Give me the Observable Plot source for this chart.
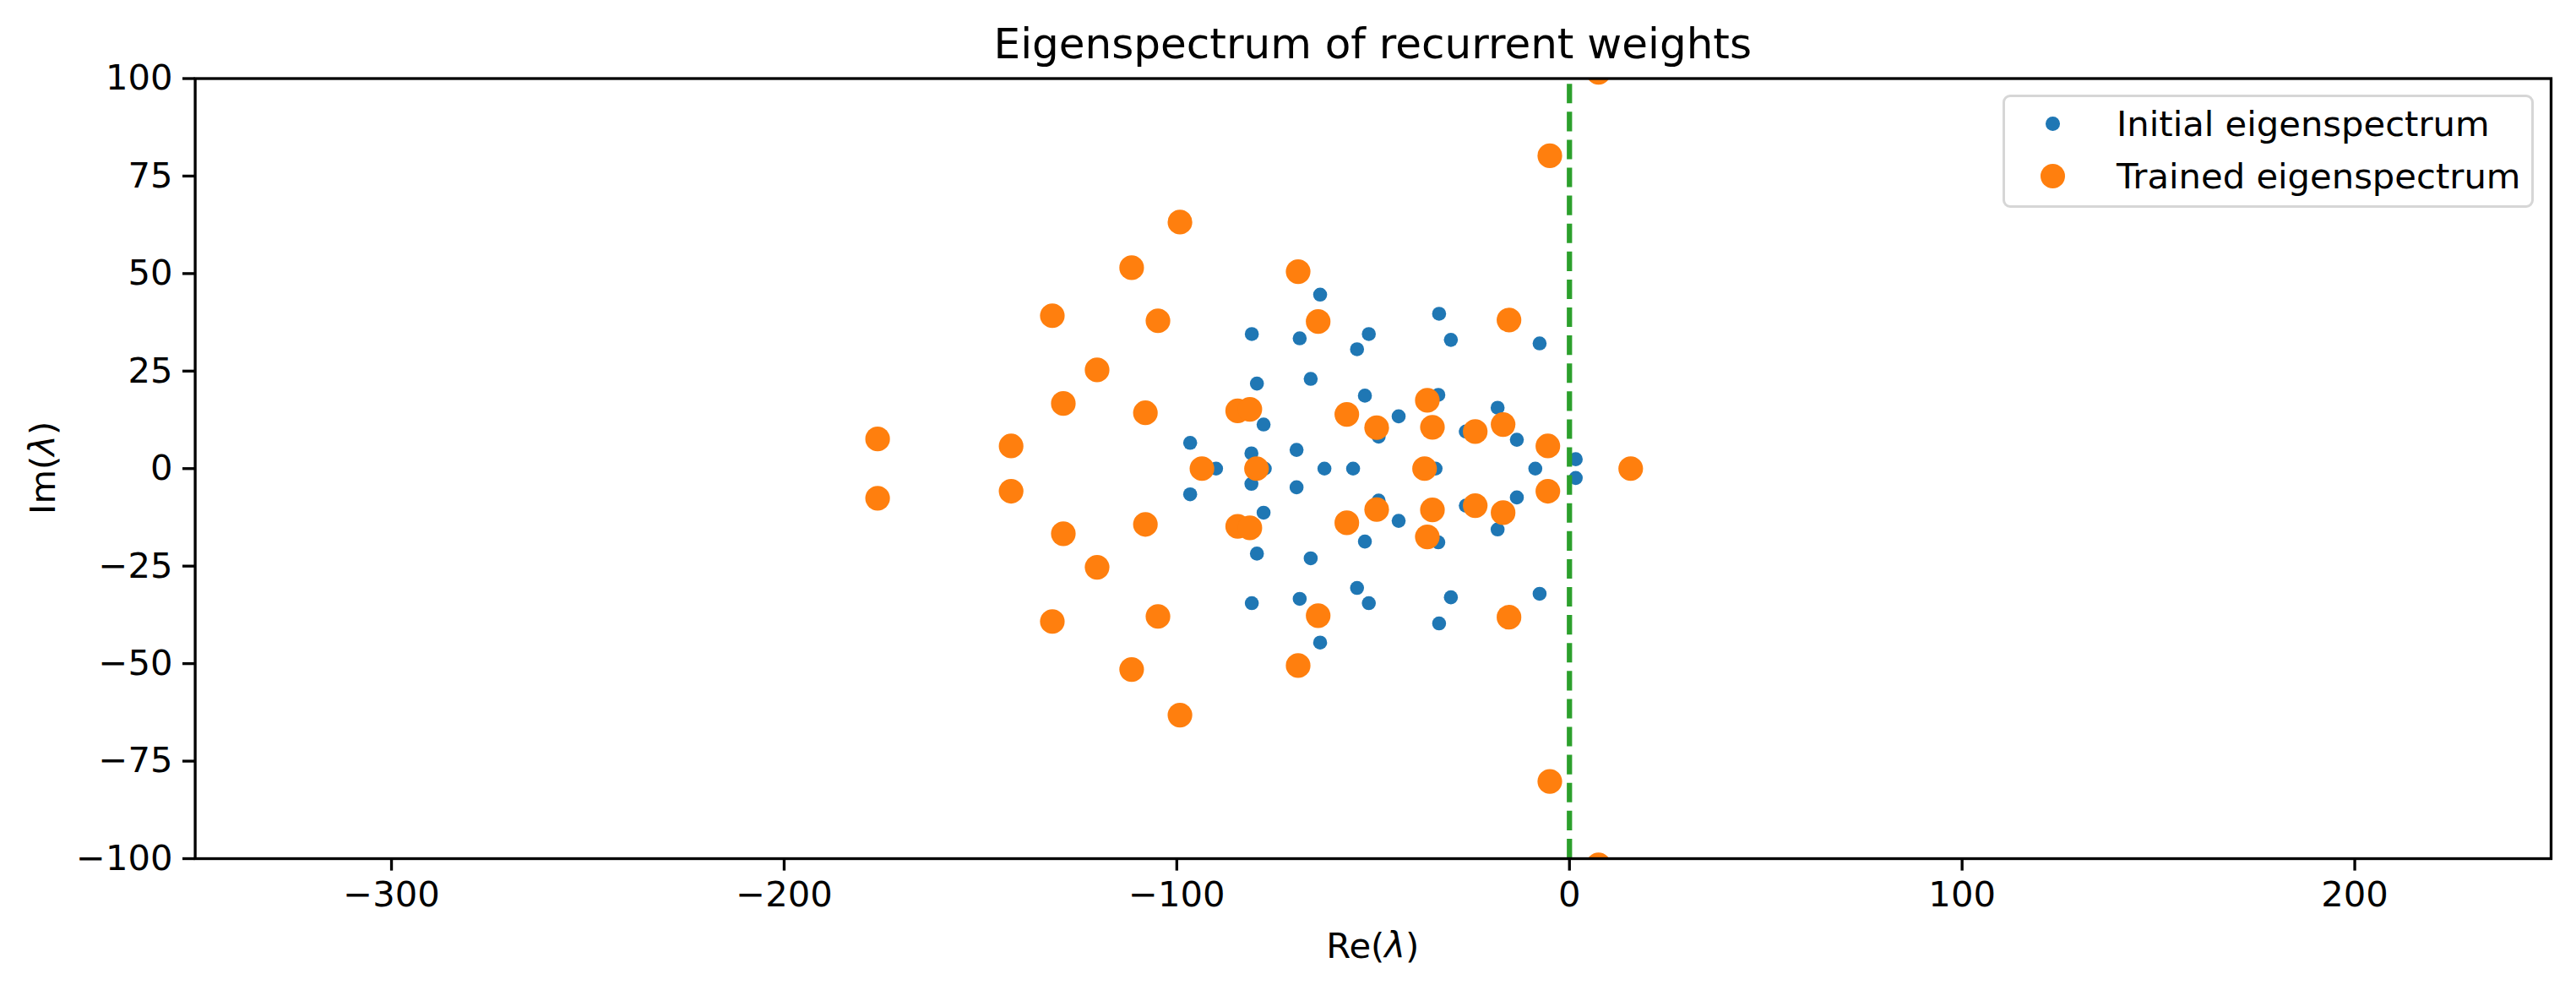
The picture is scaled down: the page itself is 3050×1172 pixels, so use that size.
<!DOCTYPE html>
<html>
<head>
<meta charset="utf-8">
<script src="https://cdn.jsdelivr.net/npm/d3@7"></script>
<script src="https://cdn.jsdelivr.net/npm/@observablehq/plot@0.6"></script>
<style>
  html, body { margin: 0; padding: 0; background: #ffffff; }
  #wrap { position: relative; width: 3050px; height: 1172px; font-family: "DejaVu Sans", sans-serif; color: #000; background: #fff; overflow: hidden; }
  #wrap svg { position: absolute; left: 0; top: 0; }
  .txt { position: absolute; white-space: nowrap; line-height: 1; }
</style>
</head>
<body>
<div id="wrap"></div>
<script>
// ---- data ----
const titleText = "Eigenspectrum of recurrent weights";
const seriesNames = ["Initial eigenspectrum", "Trained eigenspectrum"];
const xTicks = [-300, -200, -100, 0, 100, 200];
const yTicks = [-100, -75, -50, -25, 0, 25, 50, 75, 100];
const xDomain = [-350, 250];
const yDomain = [-100, 100];
const thresholdRe = [0];

const initialRe = [-63.5,-63.5,-33.2,-33.2,-80.9,-80.9,-68.7,-68.7,-51.1,-51.1,-54.1,-54.1,-30.2,-30.2,-7.6,-7.6,-79.6,-79.6,-65.9,-65.9,-52.1,-52.1,-33.4,-33.4,-18.3,-18.3,-77.9,-77.9,-43.5,-43.5,-48.6,-48.6,-26.4,-26.4,-13.4,-13.4,-81.0,-81.0,-69.5,-69.5,1.6,1.6,-96.6,-96.6,-90.0,-77.6,-62.4,-55.1,-34.1,-8.7];
const initialIm = [44.6,-44.6,39.7,-39.7,34.5,-34.5,33.4,-33.4,34.5,-34.5,30.6,-30.6,33.0,-33.0,32.1,-32.1,21.8,-21.8,23.0,-23.0,18.7,-18.7,18.9,-18.9,15.6,-15.6,11.3,-11.3,13.4,-13.4,8.2,-8.2,9.5,-9.5,7.4,-7.4,3.9,-3.9,4.8,-4.8,2.4,-2.4,6.6,-6.6,0,0,0,0,0,0];

const trainedRe = [-176.2,-176.2,-142.2,-142.2,-131.7,-131.7,-128.9,-128.9,-120.3,-120.3,-111.5,-111.5,-108.0,-108.0,-104.8,-104.8,-99.2,-99.2,-84.5,-84.5,-81.4,-81.4,-69.1,-69.1,-64.0,-64.0,-56.7,-56.7,-49.1,-49.1,-36.2,-36.2,-34.9,-34.9,-24.0,-24.0,-16.9,-16.9,-15.4,-15.4,-5.5,-5.5,-5.0,-5.0,7.4,7.4,-93.6,-79.7,-36.9,15.6];
const trainedIm = [7.6,-7.6,5.8,-5.8,39.2,-39.2,16.7,-16.7,25.3,-25.3,51.5,-51.5,14.3,-14.3,37.9,-37.9,63.2,-63.2,14.8,-14.8,15.2,-15.2,50.5,-50.5,37.7,-37.7,13.9,-13.9,10.5,-10.5,17.5,-17.5,10.6,-10.6,9.5,-9.5,11.3,-11.3,38.1,-38.1,5.8,-5.8,80.2,-80.2,101.6,-101.6,0,0,0,0];

const colors = ["#1f77b4", "#ff7f0e"];
const lineColor = "#2ca02c";

// ---- build tables ----
const initial = initialRe.map((re, i) => ({re, im: initialIm[i]}));
const trained = trainedRe.map((re, i) => ({re, im: trainedIm[i]}));

const W = 3050, H = 1172;
const mL = 230.6, mR = 30, mT = 92.5, mB = 156;
const fs = 41.7;
const lw = 3.33;

const chart = Plot.plot({
  width: W,
  height: H,
  marginLeft: mL,
  marginRight: mR,
  marginTop: mT,
  marginBottom: mB,
  style: {fontFamily: "DejaVu Sans", fontSize: fs + "px", color: "#000", background: "transparent"},
  x: {domain: xDomain},
  y: {domain: yDomain},
  marks: [
    Plot.dot(initial, {x: "re", y: "im", r: 8.3, fill: colors[0], clip: true}),
    Plot.dot(trained, {x: "re", y: "im", r: 14.6, fill: colors[1], clip: true}),
    Plot.ruleX(thresholdRe, {y1: yDomain[0], y2: yDomain[1], stroke: lineColor, strokeWidth: 6.25, strokeDasharray: "23.1,10"}),
    Plot.frame({stroke: "#000", strokeWidth: lw}),
    Plot.axisX({ticks: xTicks, tickSize: 14.6, tickPadding: 12, strokeWidth: lw, label: null, fontSize: fs}),
    Plot.axisY({ticks: yTicks, tickSize: 14.6, tickPadding: 12, strokeWidth: lw, label: null, fontSize: fs})
  ]
});

const wrap = document.getElementById("wrap");
wrap.appendChild(chart);

const plotCenterX = (mL + (W - mR)) / 2;

function addText(html, style) {
  const d = document.createElement("div");
  d.className = "txt";
  d.innerHTML = html;
  Object.assign(d.style, style);
  wrap.appendChild(d);
  return d;
}

// title
addText(titleText, {left: (plotCenterX - 1000) + "px", top: (69 - 0.846 * 50) + "px", width: "2000px", textAlign: "center", fontSize: "50px"});
// x label
addText('Re(<i>λ</i>)', {left: (plotCenterX - 300) + "px", top: (1134 - 0.846 * fs) + "px", width: "600px", textAlign: "center", fontSize: fs + "px"});
// y label
addText('Im(<i>λ</i>)', {left: (50.6 - 150) + "px", top: (554.3 - fs / 2) + "px", width: "300px", height: fs + "px", textAlign: "center", fontSize: fs + "px", transform: "rotate(-90deg)", transformOrigin: "50% 50%"});

// legend
const leg = document.createElement("div");
Object.assign(leg.style, {position: "absolute", left: "2371px", top: "112px", width: "629px", height: "134px", boxSizing: "border-box", border: "3.3px solid #d6d6d6", borderRadius: "9px", background: "rgba(255,255,255,0.8)"});
wrap.appendChild(leg);
const rowCenters = [146.7, 208.3];
const markerD = [16.7, 29.2];
seriesNames.forEach((name, i) => {
  const m = document.createElement("div");
  Object.assign(m.style, {position: "absolute", left: (2430.6 - markerD[i] / 2) + "px", top: (rowCenters[i] - markerD[i] / 2) + "px", width: markerD[i] + "px", height: markerD[i] + "px", borderRadius: "50%", background: colors[i]});
  wrap.appendChild(m);
  addText(name, {left: "2506px", top: (rowCenters[i] + 15 - 0.846 * fs) + "px", fontSize: fs + "px"});
});
</script>
</body>
</html>
